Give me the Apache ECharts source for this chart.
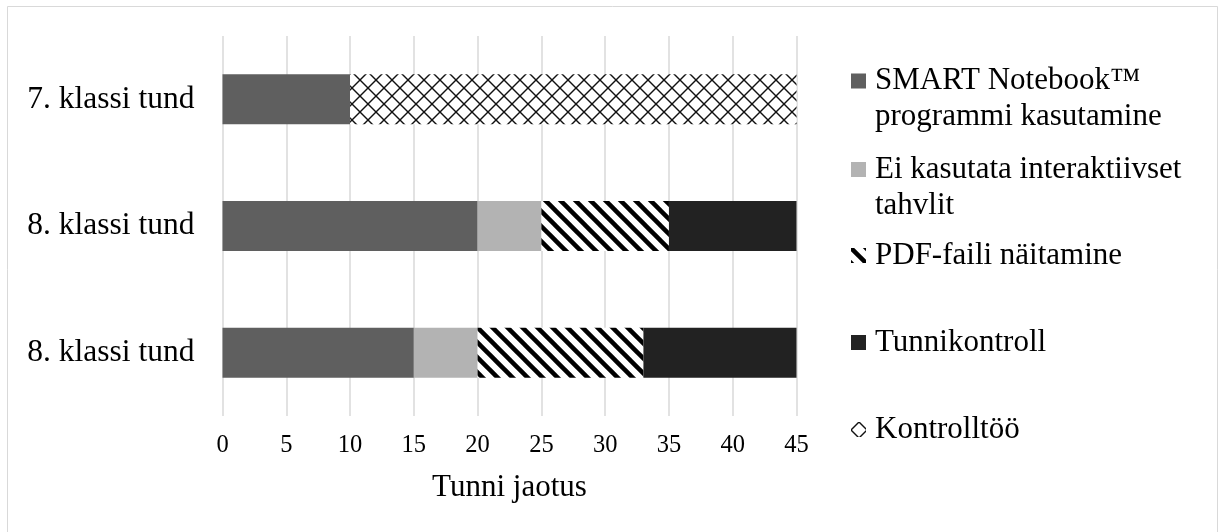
<!DOCTYPE html>
<html>
<head>
<meta charset="utf-8">
<script src="https://cdn.jsdelivr.net/npm/echarts@6/dist/echarts.min.js"></script>
<style>
html,body{margin:0;padding:0;background:#fff;}
#chart{width:1218px;height:532px;}
</style>
</head>
<body>
<div id="chart"></div>
<script>
// Categories (bottom to top on the y axis)
var categories = ['8. klassi tund', '8. klassi tund', '7. klassi tund'];
// Series names
var seriesNames = [
  'SMART Notebook™ programmi kasutamine',
  'Ei kasutata interaktiivset tahvlit',
  'PDF-faili näitamine',
  'Tunnikontroll',
  'Kontrolltöö'
];
// Series values (minutes), same order as categories
var smartValues = [15, 20, 10];
var eiValues = [5, 5, null];
var pdfValues = [13, 10, null];
var tunniValues = [12, 10, null];
var kontrollValues = [null, null, 35];
// x axis ticks
var xMin = 0, xMax = 45, xStep = 5;

var FONT = 'Liberation Serif';

function stripeTile() {
  var s = 15;
  var c = document.createElement('canvas');
  c.width = s; c.height = s;
  var g = c.getContext('2d');
  g.fillStyle = '#ffffff';
  g.fillRect(0, 0, s, s);
  g.strokeStyle = '#000000';
  g.lineWidth = 4.5;
  for (var k = -1; k <= 1; k++) {
    g.beginPath();
    g.moveTo(k * s - 2, -2);
    g.lineTo(k * s + s + 2, s + 2);
    g.stroke();
  }
  return c;
}
function crossTile() {
  var s = 16;
  var c = document.createElement('canvas');
  c.width = s; c.height = s;
  var g = c.getContext('2d');
  g.fillStyle = '#ffffff';
  g.fillRect(0, 0, s, s);
  g.strokeStyle = '#111111';
  g.lineWidth = 1.4;
  var k;
  // "\" lines: x - y = 8 (mod 16)
  for (k = -2; k <= 1; k++) {
    g.beginPath();
    g.moveTo(8 + k * s - 2, -2);
    g.lineTo(8 + k * s + s + 2, s + 2);
    g.stroke();
  }
  // "/" lines: x + y = 8 (mod 16)
  for (k = -1; k <= 2; k++) {
    g.beginPath();
    g.moveTo(8 + k * s + 2, -2);
    g.lineTo(8 + k * s - s - 2, s + 2);
    g.stroke();
  }
  return c;
}

var colors = [
  '#5f5f5f',
  '#b3b3b3',
  { image: stripeTile(), repeat: 'repeat' },
  '#222222',
  { image: crossTile(), repeat: 'repeat' }
];
var values = [smartValues, eiValues, pdfValues, tunniValues, kontrollValues];
var legendLabels = [
  'SMART Notebook™\nprogrammi kasutamine',
  'Ei kasutata interaktiivset\ntahvlit',
  'PDF-faili näitamine',
  'Tunnikontroll',
  'Kontrolltöö'
];
var iconCenters = [81, 169.5, 255.5, 342.5, 429.5];
// icon shape for two-line entries: square at top of a taller invisible box
var topSquareIcon = 'path://M0,0L1,0L1,1L0,1Z M0,3.4L0.001,3.4Z';

var series = seriesNames.map(function (n, i) {
  return {
    name: n,
    type: 'bar',
    stack: 'total',
    barWidth: 50,
    data: values[i],
    itemStyle: { color: colors[i] },
    emphasis: { disabled: true },
    animation: false
  };
});

var legends = seriesNames.map(function (n, i) {
  var twoLine = legendLabels[i].indexOf('\n') >= 0;
  return {
    orient: 'vertical',
    left: 851,
    top: iconCenters[i] - 18,
    padding: 0,
    itemWidth: 15,
    itemHeight: twoLine ? 51 : 15,
    selectedMode: false,
    data: [{ name: n, icon: twoLine ? topSquareIcon : 'rect' }],
    formatter: function () { return legendLabels[i]; },
    textStyle: {
      fontFamily: FONT,
      fontSize: 31,
      lineHeight: 36,
      color: '#000',
      padding: [0, 0, 0, 4]
    }
  };
});

var chart = echarts.init(document.getElementById('chart'), null, { renderer: 'canvas' });
chart.setOption({
  animation: false,
  backgroundColor: '#ffffff',
  textStyle: { fontFamily: FONT },
  graphic: [{
    type: 'rect',
    shape: { x: 7.5, y: 6.5, width: 1210, height: 560 },
    style: { fill: 'none', stroke: '#d9d9d9', lineWidth: 1 },
    silent: true
  }],
  grid: { left: 222.5, right: 421.5, top: 36, bottom: 116, containLabel: false },
  xAxis: {
    type: 'value',
    min: xMin, max: xMax, interval: xStep,
    axisLine: { show: false },
    axisTick: { show: false },
    splitLine: { show: true, lineStyle: { color: '#d9d9d9', width: 1.5 } },
    axisLabel: { fontFamily: FONT, fontSize: 24.5, color: '#000', margin: 17 },
    name: 'Tunni jaotus',
    nameLocation: 'middle',
    nameGap: 56,
    nameTextStyle: { fontFamily: FONT, fontSize: 31, color: '#000' }
  },
  yAxis: {
    type: 'category',
    data: categories,
    axisLine: { show: false },
    axisTick: { show: false },
    splitLine: { show: false },
    axisLabel: { fontFamily: FONT, fontSize: 31.5, color: '#000', margin: 28 }
  },
  legend: legends,
  series: series
});
</script>
</body>
</html>
